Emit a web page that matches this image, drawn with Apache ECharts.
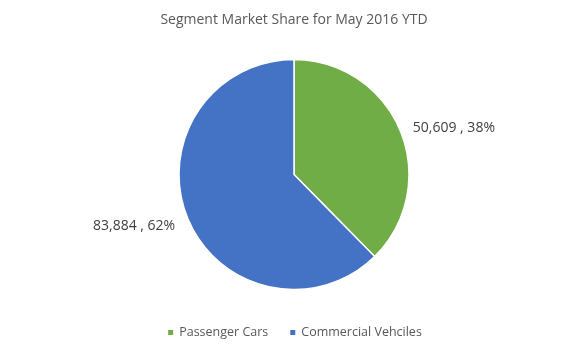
<!DOCTYPE html>
<html>
<head>
<meta charset="utf-8">
<script src="https://cdn.jsdelivr.net/npm/echarts@6/dist/echarts.min.js"></script>
<style>html,body{margin:0;padding:0;background:#fff;}#c{width:588px;height:350px;}</style>
</head>
<body>
<div id="c"></div>
<script>
var categories = ['Passenger Cars', 'Commercial Vehciles'];
var values = [50609, 83884];
var colors = ['#70AD47', '#4472C4'];
var titleText = 'Segment Market Share for May 2016 YTD';

var chart = echarts.init(document.getElementById('c'), null, {renderer: 'canvas'});
var fontFam = '"Open Sans", "Liberation Sans", sans-serif';
chart.setOption({
  animation: false,
  title: {
    text: titleText,
    left: 'center',
    top: 8,
    textStyle: {fontFamily: fontFam, fontSize: 14, fontWeight: 'normal', color: '#595959'}
  },
  legend: {
    bottom: 6,
    left: 'center',
    itemWidth: 7,
    itemHeight: 7,
    itemGap: 20,
    icon: 'rect',
    textStyle: {fontFamily: fontFam, fontSize: 12.5, color: '#595959'},
    data: categories
  },
  series: [{
    type: 'pie',
    center: [294, 174.5],
    radius: [0, 115],
    startAngle: 90,
    clockwise: true,
    itemStyle: {borderColor: '#fff', borderWidth: 1.5},
    label: {
      show: true,
      position: 'outside',
      fontFamily: fontFam,
      fontSize: 14,
      color: '#404040',
      formatter: function (p) {
        return p.value.toLocaleString('en-US') + ' , ' + Math.round(p.percent) + '%';
      }
    },
    labelLayout: function (p) {
      return p.dataIndex === 1 ? {dy: 5} : {dy: 0};
    },
    labelLine: {show: false, length: 8, length2: 0},
    data: categories.map(function (c, i) {
      return {name: c, value: values[i], itemStyle: {color: colors[i]}};
    })
  }]
});
</script>
</body>
</html>
